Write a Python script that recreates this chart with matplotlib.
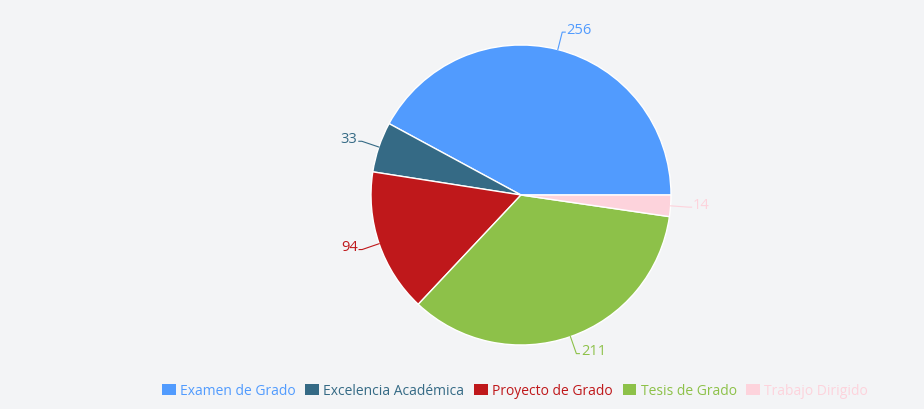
import numpy as np
import matplotlib.pyplot as plt
from matplotlib.patches import Patch

categorias = ["Examen de Grado", "Excelencia Académica", "Proyecto de Grado", "Tesis de Grado", "Trabajo Dirigido"]
valores = [256, 33, 94, 211, 14]
colores = ["#519bfe", "#356a85", "#bf181b", "#8dc149", "#fdd3dc"]

plt.rcParams['font.family'] = ['Open Sans', 'DejaVu Sans']

bg = "#f3f4f6"
fig = plt.figure(figsize=(9.24, 4.10), dpi=100, facecolor=bg)
ax = fig.add_axes([(521 - 150) / 924, (214 - 150) / 410, 300 / 924, 300 / 410])
ax.set_facecolor(bg)

wedges, _ = ax.pie(valores, colors=colores, startangle=0, counterclock=True,
                   wedgeprops=dict(edgecolor="white", linewidth=1), radius=1)
ax.set_xlim(-1, 1)
ax.set_ylim(-1, 1)
ax.set_aspect("equal")
ax.axis("off")

for w, v, c in zip(wedges, valores, colores):
    ang = np.deg2rad((w.theta1 + w.theta2) / 2)
    x0, y0 = np.cos(ang), np.sin(ang)
    x1, y1 = 1.12 * x0, 1.12 * y0
    lado = 1 if x0 >= 0 else -1
    x2 = x1 + lado * 0.02
    ax.plot([x0, x1, x2], [y0, y1, y1], color=c, lw=0.8, clip_on=False)
    ax.text(x2 + lado * 0.01, y1 + 0.02, str(v), color=c, fontsize=10.5,
            ha="left" if lado > 0 else "right", va="center", clip_on=False)

handles = [Patch(facecolor=c, edgecolor="none") for c in colores]
leg = fig.legend(handles, categorias, loc="center", bbox_to_anchor=(515 / 924, 1 - 392 / 410),
                 ncol=5, frameon=False, fontsize=10, handlelength=1.0, handleheight=0.8,
                 handletextpad=0.3, columnspacing=0.7)
for t, c in zip(leg.get_texts(), colores):
    t.set_color(c)

fig.savefig("out.png", dpi=100, facecolor=bg)
